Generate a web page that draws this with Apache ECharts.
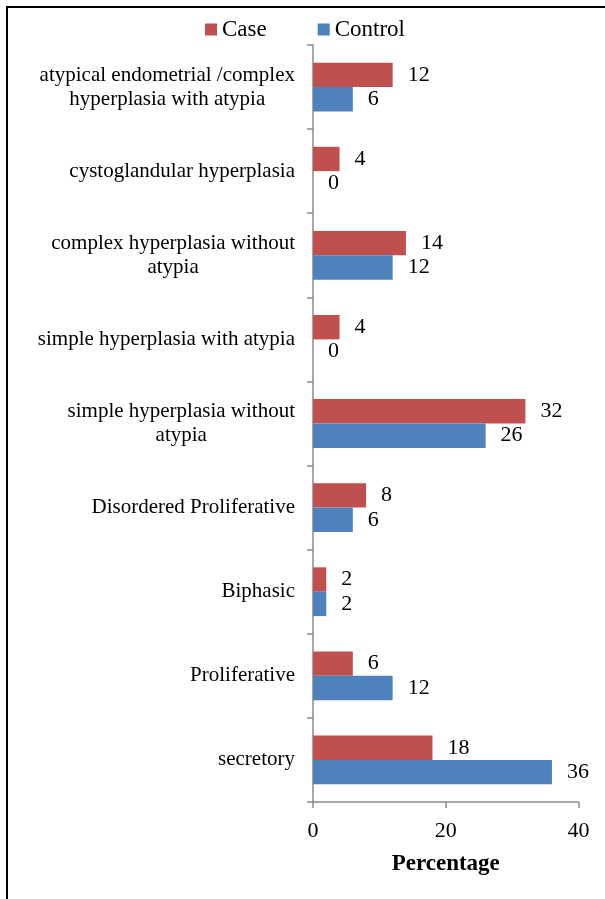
<!DOCTYPE html>
<html>
<head>
<meta charset="utf-8">
<script src="https://cdn.jsdelivr.net/npm/echarts@6/dist/echarts.min.js"></script>
<style>
html,body{margin:0;padding:0;background:#fff;}
#chart{width:605px;height:899px;}
</style>
</head>
<body>
<div id="chart"></div>
<script>
// Categories listed bottom to top
const categories = [
  'secretory',
  'Proliferative',
  'Biphasic',
  'Disordered Proliferative',
  'simple hyperplasia without\natypia',
  'simple hyperplasia with atypia',
  'complex hyperplasia without\natypia',
  'cystoglandular hyperplasia',
  'atypical endometrial /complex\nhyperplasia with atypia'
];
const caseValues    = [18, 6, 2, 8, 32, 4, 14, 4, 12];
const controlValues = [36, 12, 2, 6, 26, 0, 12, 0, 6];
const xTicks = { min: 0, max: 40, interval: 20 };

const FONT = '"Liberation Serif", "Times New Roman", serif';
const chart = echarts.init(document.getElementById('chart'), null, { renderer: 'canvas' });

const valueLabel = {
  show: true,
  position: 'right',
  distance: 15,
  fontFamily: FONT,
  fontSize: 22,
  color: '#000'
};

chart.setOption({
  animation: false,
  backgroundColor: '#fff',
  graphic: [
    { type: 'line', shape: { x1: 6, y1: 7, x2: 605, y2: 7 }, style: { stroke: '#000', lineWidth: 2 } },
    { type: 'line', shape: { x1: 7, y1: 6, x2: 7, y2: 899 }, style: { stroke: '#000', lineWidth: 2 } }
  ],
  legend: {
    data: ['Case', 'Control'],
    left: 200,
    top: 13,
    itemWidth: 12,
    itemHeight: 12,
    itemGap: 51,
    icon: 'rect',
    textStyle: { fontFamily: FONT, fontSize: 23, color: '#000' }
  },
  grid: {
    left: 313,
    right: 26.5,
    top: 45,
    bottom: 97,
    containLabel: false,
    outerBoundsMode: 'none'
  },
  xAxis: {
    type: 'value',
    min: xTicks.min,
    max: xTicks.max,
    interval: xTicks.interval,
    name: 'Percentage',
    nameLocation: 'middle',
    nameGap: 51,
    nameTextStyle: { fontFamily: FONT, fontSize: 23, fontWeight: 'bold', color: '#000' },
    axisLine: { show: true, lineStyle: { color: '#8a8a8a', width: 1.5 } },
    axisTick: { show: true, length: 6, lineStyle: { color: '#8a8a8a', width: 1.5 } },
    axisLabel: { fontFamily: FONT, fontSize: 22, color: '#000', margin: 18 },
    splitLine: { show: false }
  },
  yAxis: {
    type: 'category',
    data: categories,
    axisLine: { show: true, lineStyle: { color: '#8a8a8a', width: 1.5 } },
    axisTick: { show: true, length: 6, lineStyle: { color: '#8a8a8a', width: 1.5 } },
    axisLabel: {
      interval: 0,
      margin: 18,
      color: '#000',
      fontFamily: FONT,
      fontSize: 21,
      lineHeight: 24,
      formatter: function (v) {
        return v.split('\n').map(function (l) { return '{c|' + l + '}'; }).join('\n');
      },
      rich: {
        c: { align: 'center', fontFamily: FONT, fontSize: 21, lineHeight: 24, color: '#000' }
      }
    },
    splitLine: { show: false }
  },
  series: [
    {
      name: 'Case',
      type: 'bar',
      data: caseValues,
      barGap: '0%',
      barCategoryGap: '42%',
      itemStyle: { color: '#C0504D' },
      label: valueLabel
    },
    {
      name: 'Control',
      type: 'bar',
      data: controlValues,
      barGap: '0%',
      barCategoryGap: '42%',
      itemStyle: { color: '#4F81BD' },
      label: valueLabel
    }
  ]
});
</script>
</body>
</html>
